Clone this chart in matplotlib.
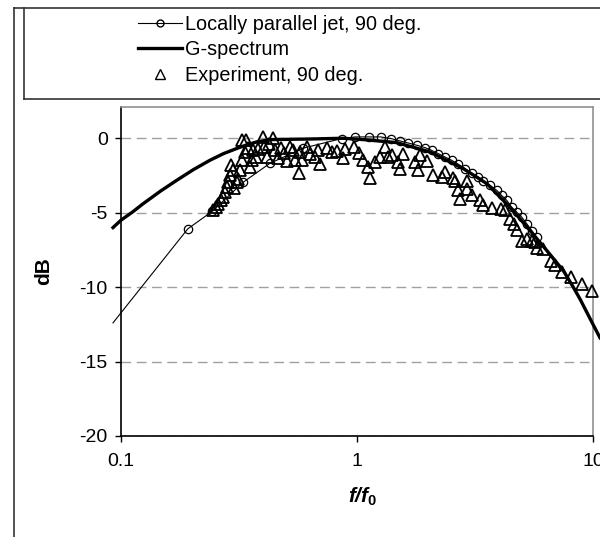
import matplotlib.pyplot as plt
from matplotlib.lines import Line2D

plt.rcParams['font.family'] = ['Liberation Sans', 'DejaVu Sans']
plt.rcParams['axes.unicode_minus'] = False
plt.rcParams['mathtext.fontset'] = 'custom'
plt.rcParams['mathtext.it'] = 'Liberation Sans:italic:bold'
plt.rcParams['mathtext.rm'] = 'Liberation Sans:bold'
plt.rcParams['mathtext.bf'] = 'Liberation Sans:bold'

# Locally parallel jet, 90 deg. (f/f0, dB)
jet_f = [0.0925, 0.192, 0.244, 0.329, 0.428, 0.59, 0.861, 0.981, 1.127, 1.259,
         1.393, 1.521, 1.65, 1.791, 1.942, 2.07, 2.21, 2.36, 2.52, 2.69,
         2.87, 3.06, 3.27, 3.43, 3.66, 3.91, 4.10, 4.31, 4.52, 4.75,
         4.99, 5.24, 5.50, 5.77]
jet_db = [-12.4, -6.08, -4.9, -2.96, -1.68, -0.67, -0.02, 0.09, 0.09, 0.09,
          -0.02, -0.18, -0.32, -0.47, -0.63, -0.81, -1.03, -1.26, -1.48, -1.75,
          -2.04, -2.34, -2.61, -2.88, -3.16, -3.50, -3.84, -4.17, -4.63, -4.96,
          -5.30, -5.74, -6.20, -6.65]

# G-spectrum
g_f = [0.0925, 0.1, 0.112, 0.124, 0.147, 0.172, 0.203, 0.238, 0.272, 0.309,
       0.340, 0.375, 0.428, 0.634, 0.872, 1.063, 1.473, 2.04, 2.82, 3.55,
       4.45, 5.41, 6.37, 7.49, 8.25, 8.81, 10.0, 10.7]
g_db = [-6.0, -5.5, -4.95, -4.4, -3.55, -2.83, -2.1, -1.48, -1.03, -0.69,
        -0.45, -0.25, -0.09, -0.05, 0.0, -0.09, -0.29, -0.92, -2.04, -3.05,
        -4.63, -6.2, -7.54, -8.9, -10.0, -10.8, -12.5, -13.4]

# Experiment, 90 deg.
exp_f = [0.2446, 0.2527, 0.2584, 0.2653, 0.2714, 0.2760, 0.2806, 0.2850, 0.2898, 0.2918,
         0.2993, 0.3013, 0.3093, 0.3141, 0.3194, 0.3247, 0.3257, 0.3386, 0.3353, 0.3463,
         0.3521, 0.3580, 0.3636, 0.3722, 0.3818, 0.3978, 0.4036, 0.4144, 0.4250, 0.4420,
         0.4494, 0.4605, 0.4764, 0.4906, 0.5052, 0.5202, 0.5341, 0.5463, 0.5664, 0.5833,
         0.5737, 0.6141, 0.6323, 0.6637, 0.6855, 0.6970, 0.7441, 0.7813, 0.8204, 0.8750,
         0.8897, 0.9712, 1.020, 1.063, 1.117, 1.135, 1.192, 1.252, 1.314, 1.357,
         1.403, 1.496, 1.521, 1.559, 1.762, 1.819, 1.849, 1.989, 2.106, 2.285,
         2.360, 2.559, 2.602, 2.687, 2.732, 2.916, 2.916, 3.062, 3.321, 3.430,
         3.723, 4.076, 4.238, 4.450, 4.628, 4.786, 4.987, 5.236, 5.499, 5.678,
         5.773, 6.157, 6.637, 6.902, 7.426, 8.068, 8.958, 9.874]
exp_db = [-4.85, -4.63, -4.40, -4.18, -3.95, -3.62, -3.28, -2.94, -2.49, -1.82,
          -2.15, -3.37, -2.96, -2.71, -2.15, -1.48, -0.13, -0.13, -0.94, -0.64,
          -1.93, -1.48, -0.81, -1.28, -0.69, 0.09, -0.59, -1.26, -0.40, 0.03,
          -0.81, -1.31, -0.67, -0.98, -1.55, -0.61, -0.81, -1.48, -2.32, -1.48,
          -0.92, -0.61, -1.03, -1.26, -0.81, -1.70, -0.64, -0.94, -0.84, -1.31,
          -0.74, -0.59, -1.01, -1.48, -1.93, -2.66, -1.60, -1.26, -0.59, -1.26,
          -1.14, -1.60, -2.04, -1.08, -1.60, -2.15, -1.14, -1.55, -2.49, -2.61,
          -2.27, -2.66, -2.90, -3.50, -4.06, -2.90, -3.39, -3.84, -4.18, -4.51,
          -4.68, -4.75, -4.85, -5.45, -5.79, -6.13, -6.87, -6.77, -6.87, -7.00,
          -7.37, -7.47, -8.22, -8.48, -8.96, -9.29, -9.78, -10.24]

y_ticks = [0, -5, -10, -15, -20]
x_ticks = [0.1, 1, 10]
x_tick_labels = ['0.1', '1', '10']
labels = ['Locally parallel jet, 90 deg.', 'G-spectrum', 'Experiment, 90 deg.']

fig = plt.figure(figsize=(6, 5.37), dpi=100)
ax = fig.add_axes([121 / 600, 1 - 436 / 537, 472 / 600, 329 / 537])

# theory line: first point lies just left of the axis, as in the original
ax.plot(jet_f, jet_db, color='black', lw=0.8, clip_on=False, zorder=3)
ax.plot(jet_f[1:], jet_db[1:], ls='none', marker='o', ms=6, mfc='none',
        mec='black', mew=0.9, zorder=3)
ax.plot(g_f, g_db, color='black', lw=2.4, clip_on=False, zorder=4)
ax.plot(exp_f, exp_db, ls='none', marker='^', ms=8.5, mfc='none',
        mec='black', mew=1.3, clip_on=False, zorder=5)

ax.set_xscale('log')
ax.set_xlim(0.1, 10)
ax.set_ylim(-20, 2.1)
ax.set_xticks(x_ticks)
ax.set_xticklabels(x_tick_labels)
ax.xaxis.set_minor_locator(plt.NullLocator())
ax.set_yticks(y_ticks)
ax.tick_params(axis='both', direction='out', length=4.5, width=1, labelsize=14)
ax.tick_params(axis='x', pad=8)
ax.tick_params(axis='y', pad=5)

ax.set_axisbelow(True)
ax.yaxis.grid(True, color='#a0a0a0', lw=1, ls=(0, (7, 4)))
for side in ['left', 'bottom']:
    ax.spines[side].set_color('black')
    ax.spines[side].set_linewidth(1.2)
for side in ['top', 'right']:
    ax.spines[side].set_color('#909090')
    ax.spines[side].set_linewidth(1.2)

fig.text(44 / 600, 1 - 271 / 537, 'dB', rotation=90, ha='center', va='center',
         fontsize=15, fontweight='bold')
fig.text(363 / 600, 1 - 497 / 537, r'$f$/$f_0$', ha='center', va='center',
         fontsize=15, fontweight='bold', style='italic')

# chart area and legend frames (they run off the right side of the picture)
x_out, y_top = 14 / 600, 1 - 8 / 537
x_leg, y_leg = 24 / 600, 1 - 99 / 537
for xs, ys in [([x_out, x_out], [0, y_top]), ([x_out, 1], [y_top, y_top]),
               ([x_leg, x_leg], [y_leg, y_top]), ([x_leg, 1], [y_leg, y_leg])]:
    fig.add_artist(Line2D(xs, ys, transform=fig.transFigure, color='#333333', lw=1.2))

handles = [
    Line2D([], [], color='black', lw=0.8, marker='o', ms=5, mfc='none', mec='black'),
    Line2D([], [], color='black', lw=2.4),
    Line2D([], [], ls='none', marker='^', ms=7, mfc='none', mec='black', mew=1),
]
ax.legend(handles, labels, loc='upper left', bbox_to_anchor=(138 / 600, 1 - 14.5 / 537),
          bbox_transform=fig.transFigure, frameon=False, borderpad=0, borderaxespad=0,
          handlelength=2.2, handletextpad=0.15, labelspacing=0.33, fontsize=14.3, numpoints=1)

fig.savefig('out.png', dpi=100)
